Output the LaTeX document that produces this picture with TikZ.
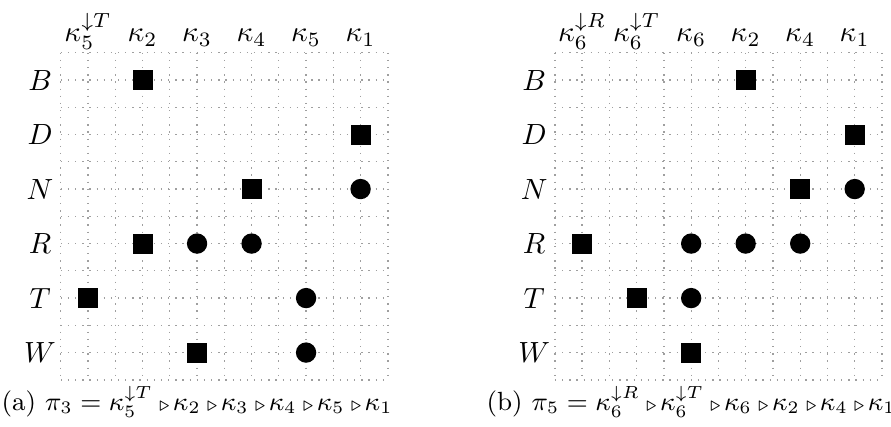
\documentclass[tikz,border=0pt]{standalone}
\usepackage{amssymb}
\usetikzlibrary{positioning}
\newcommand{\prefOver}{\mathbin{\scriptstyle\triangleright}\mkern-2mu}
\begin{document}
\begin{tikzpicture}[
        x=0.656cm,
        y=0.656cm,
        gridLine/.style={
            draw=gray!75,
            dotted,
            line width=0.45pt
        },
        hitSquare/.style={
            rectangle,
            fill=black,
            minimum size=0.24cm,
            inner sep=0pt
        },
        hitCircle/.style={
            circle,
            fill=black,
            minimum size=0.245cm,
            inner sep=0pt
        },
        rowLabel/.style={
            inner sep=1pt
        },
        colLabel/.style={
            anchor=base,
            inner sep=1pt
        },
        captionText/.style={
            anchor=base,
            inner sep=0pt,
            font=\small
        }
    ]
    \useasboundingbox (-0.615,0.468) rectangle (15.73,-7.349);

        % Panel (a)
        \begin{scope}[shift={(0,0)}]
            \foreach \k in {0,...,12} {
                \draw[gridLine] (0.5+\k/2,-0.5) -- (0.5+\k/2,-6.5);
                \draw[gridLine] (0.5,-0.5-\k/2) -- (6.5,-0.5-\k/2);
            }
            \foreach \lbl [count=\i] in {B,D,N,R,T,W}
                \node[rowLabel] (aRow\lbl) at (0.12,-\i) {$\lbl$};
            \foreach \lbl [count=\i] in {{\kappa_5^{\downarrow T}},\kappa_2,\kappa_3,\kappa_4,\kappa_5,\kappa_1}
                \node[colLabel] (aCol\i) at (\i,-0.3) {$\lbl$};

            % Squares and circles
            \foreach \c/\r in {2/1,6/2,4/3,2/4,1/5,3/6}
                \node[hitSquare] (aSq\c\r) at (\c,-\r) {};
            \foreach \c/\r in {6/3,3/4,4/4,5/5,5/6}
                \node[hitCircle] (aCi\c\r) at (\c,-\r) {};

            \node[captionText] (aCaption) at (3.0,-7.07)
                {(a) $\pi_3 = \kappa_5^{\downarrow T} \prefOver \kappa_2 \prefOver \kappa_3 \prefOver \kappa_4 \prefOver \kappa_5 \prefOver \kappa_1$};
        \end{scope}

        % Panel (b)
        \begin{scope}[shift={(9.064,0)}]
            \foreach \k in {0,...,12} {
                \draw[gridLine] (0.5+\k/2,-0.5) -- (0.5+\k/2,-6.5);
                \draw[gridLine] (0.5,-0.5-\k/2) -- (6.5,-0.5-\k/2);
            }
            \foreach \lbl [count=\i] in {B,D,N,R,T,W}
                \node[rowLabel] (bRow\lbl) at (0.12,-\i) {$\lbl$};
            \foreach \lbl [count=\i] in {{\kappa_6^{\downarrow R}},{\kappa_6^{\downarrow T}},\kappa_6,\kappa_2,\kappa_4,\kappa_1}
                \node[colLabel] (bCol\i) at (\i,-0.3) {$\lbl$};

            % Squares and circles
            \foreach \c/\r in {4/1,6/2,5/3,1/4,2/5,3/6}
                \node[hitSquare] (bSq\c\r) at (\c,-\r) {};
            \foreach \c/\r in {6/3,3/4,4/4,5/4,3/5}
                \node[hitCircle] (bCi\c\r) at (\c,-\r) {};

            \node[captionText] (bCaption) at (3.0,-7.07)
                {(b) $\pi_5 = \kappa_6^{\downarrow R} \prefOver \kappa_6^{\downarrow T} \prefOver \kappa_6 \prefOver \kappa_2 \prefOver \kappa_4 \prefOver \kappa_1$};
        \end{scope}

    \end{tikzpicture}
\end{document}
